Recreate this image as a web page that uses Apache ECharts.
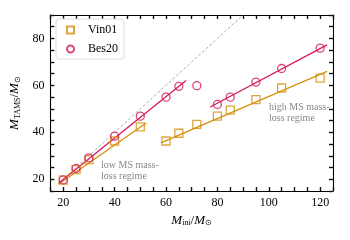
<!DOCTYPE html>
<html><head><meta charset="utf-8">
<script src="https://cdn.jsdelivr.net/npm/echarts@6/dist/echarts.min.js"></script>
<style>html,body{margin:0;padding:0;background:#fff}#c{width:350px;height:240px}</style>
</head><body><div id="c"></div>
<script>
const vinX = [20, 25, 30, 40, 50, 60, 65, 72, 80, 85, 95, 105, 120];
const vinY = [19.6, 24.1, 28.4, 36.3, 42.3, 36.3, 39.6, 43.4, 46.9, 49.5, 53.9, 58.9, 63.1];
const besX = [20, 25, 30, 40, 50, 60, 65, 72, 80, 85, 95, 105, 120];
const besY = [19.7, 24.6, 29.1, 38.4, 46.9, 55.0, 59.6, 59.9, 51.9, 55.0, 61.4, 67.2, 75.9];
const vinFitLowX = [18.3, 52.3], vinFitLowY = [18.0, 44.0];
const vinFitHighX = [58, 122.7], vinFitHighY = [35.5, 66.0];
const besFitLowX = [18.3, 67.8], besFitLowY = [18.4, 62.1];
const besFitHighX = [77.2, 122.7], besFitHighY = [50.8, 77.3];
const oneToOne = [18, 90];
const xTicks = [20, 40, 60, 80, 100, 120];
const yTicks = [20, 40, 60, 80];

const ORANGE = '#d4900e', RED = '#d6175f';
const FONT = 'Liberation Serif';
const zip = (a, b) => a.map((v, i) => [v, b[i]]);

function ax(pos, range, ticks, extra) {
  const o = {type: 'value', position: pos, min: range[0], max: range[1], interval: 5,
    axisLine: {show: true, onZero: false, lineStyle: {color: '#000', width: 1.1}},
    splitLine: {show: false},
    axisTick: {show: true, inside: true, length: 4, lineStyle: {color: '#111', width: 1.4}},
    axisLabel: ticks
      ? {show: true, fontFamily: FONT, fontSize: 12, color: '#000', margin: 6,
         formatter: v => (ticks.indexOf(v) >= 0 ? String(v) : '')}
      : {show: false}};
  return Object.assign(o, extra || {});
}
const richName = {
  i: {fontFamily: FONT, fontStyle: 'italic', fontSize: 13, color: '#000'},
  n: {fontFamily: FONT, fontSize: 13, color: '#000'},
  s: {fontFamily: FONT, fontSize: 8, color: '#000', padding: [6, 0, 0, 0]}
};

const chart = echarts.init(document.getElementById('c'));
chart.setOption({
  animation: false,
  grid: {left: 49, right: 17, top: 15, bottom: 49},
  legend: {
    left: 56, top: 19, orient: 'vertical', itemWidth: 7, itemHeight: 7, itemGap: 7,
    padding: [5, 6, 4, 10],
    borderColor: '#ddd', borderWidth: 1, borderRadius: 3, backgroundColor: '#fff',
    textStyle: {fontFamily: FONT, fontSize: 12, color: '#000', padding: [0, 0, 0, 9]},
    data: [{name: 'Vin01', icon: 'rect'}, {name: 'Bes20', icon: 'circle'}]
  },
  xAxis: [
    ax('bottom', [15, 125], xTicks, {
      name: '{i|M}{s|ini}{n|/}{i|M}{s|⊙}', nameLocation: 'middle', nameGap: 17,
      nameTextStyle: {fontFamily: FONT, fontSize: 12, rich: richName}}),
    ax('top', [15, 125], null)
  ],
  yAxis: [
    ax('left', [15, 90], yTicks, {
      name: '{i|M}{s|TAMS}{n|/}{i|M}{s|⊙}', nameLocation: 'middle', nameGap: 22, nameRotate: 90,
      nameTextStyle: {fontFamily: FONT, fontSize: 12, rich: richName}}),
    ax('right', [15, 90], null)
  ],
  graphic: [
    {type: 'text', left: 101, top: 160, style: {text: 'low MS mass-\nloss regime', fontFamily: FONT, fontSize: 10, fill: '#888', lineHeight: 11}},
    {type: 'text', left: 269, top: 102, style: {text: 'high MS mass-\nloss regime', fontFamily: FONT, fontSize: 10, fill: '#888', lineHeight: 11}}
  ],
  series: [
    {type: 'line', data: zip(oneToOne, oneToOne), symbol: 'none', silent: true,
      lineStyle: {color: '#999', width: 0.8, type: [3, 2]}, z: 1},
    {type: 'line', data: zip(vinFitLowX, vinFitLowY), symbol: 'none', lineStyle: {color: ORANGE, width: 1.3}, z: 2},
    {type: 'line', data: zip(vinFitHighX, vinFitHighY), symbol: 'none', lineStyle: {color: ORANGE, width: 1.3}, z: 2},
    {type: 'line', data: zip(besFitLowX, besFitLowY), symbol: 'none', lineStyle: {color: RED, width: 1.3}, z: 2},
    {type: 'line', data: zip(besFitHighX, besFitHighY), symbol: 'none', lineStyle: {color: RED, width: 1.3}, z: 2},
    {name: 'Vin01', type: 'scatter', data: zip(vinX, vinY), symbol: 'rect', symbolSize: 8,
      itemStyle: {color: 'rgba(255,255,255,0)', borderColor: ORANGE, borderWidth: 1.3}, z: 3},
    {name: 'Bes20', type: 'scatter', data: zip(besX, besY), symbol: 'circle', symbolSize: 8,
      itemStyle: {color: 'rgba(255,255,255,0)', borderColor: RED, borderWidth: 1.3}, z: 3}
  ]
});
</script></body></html>
